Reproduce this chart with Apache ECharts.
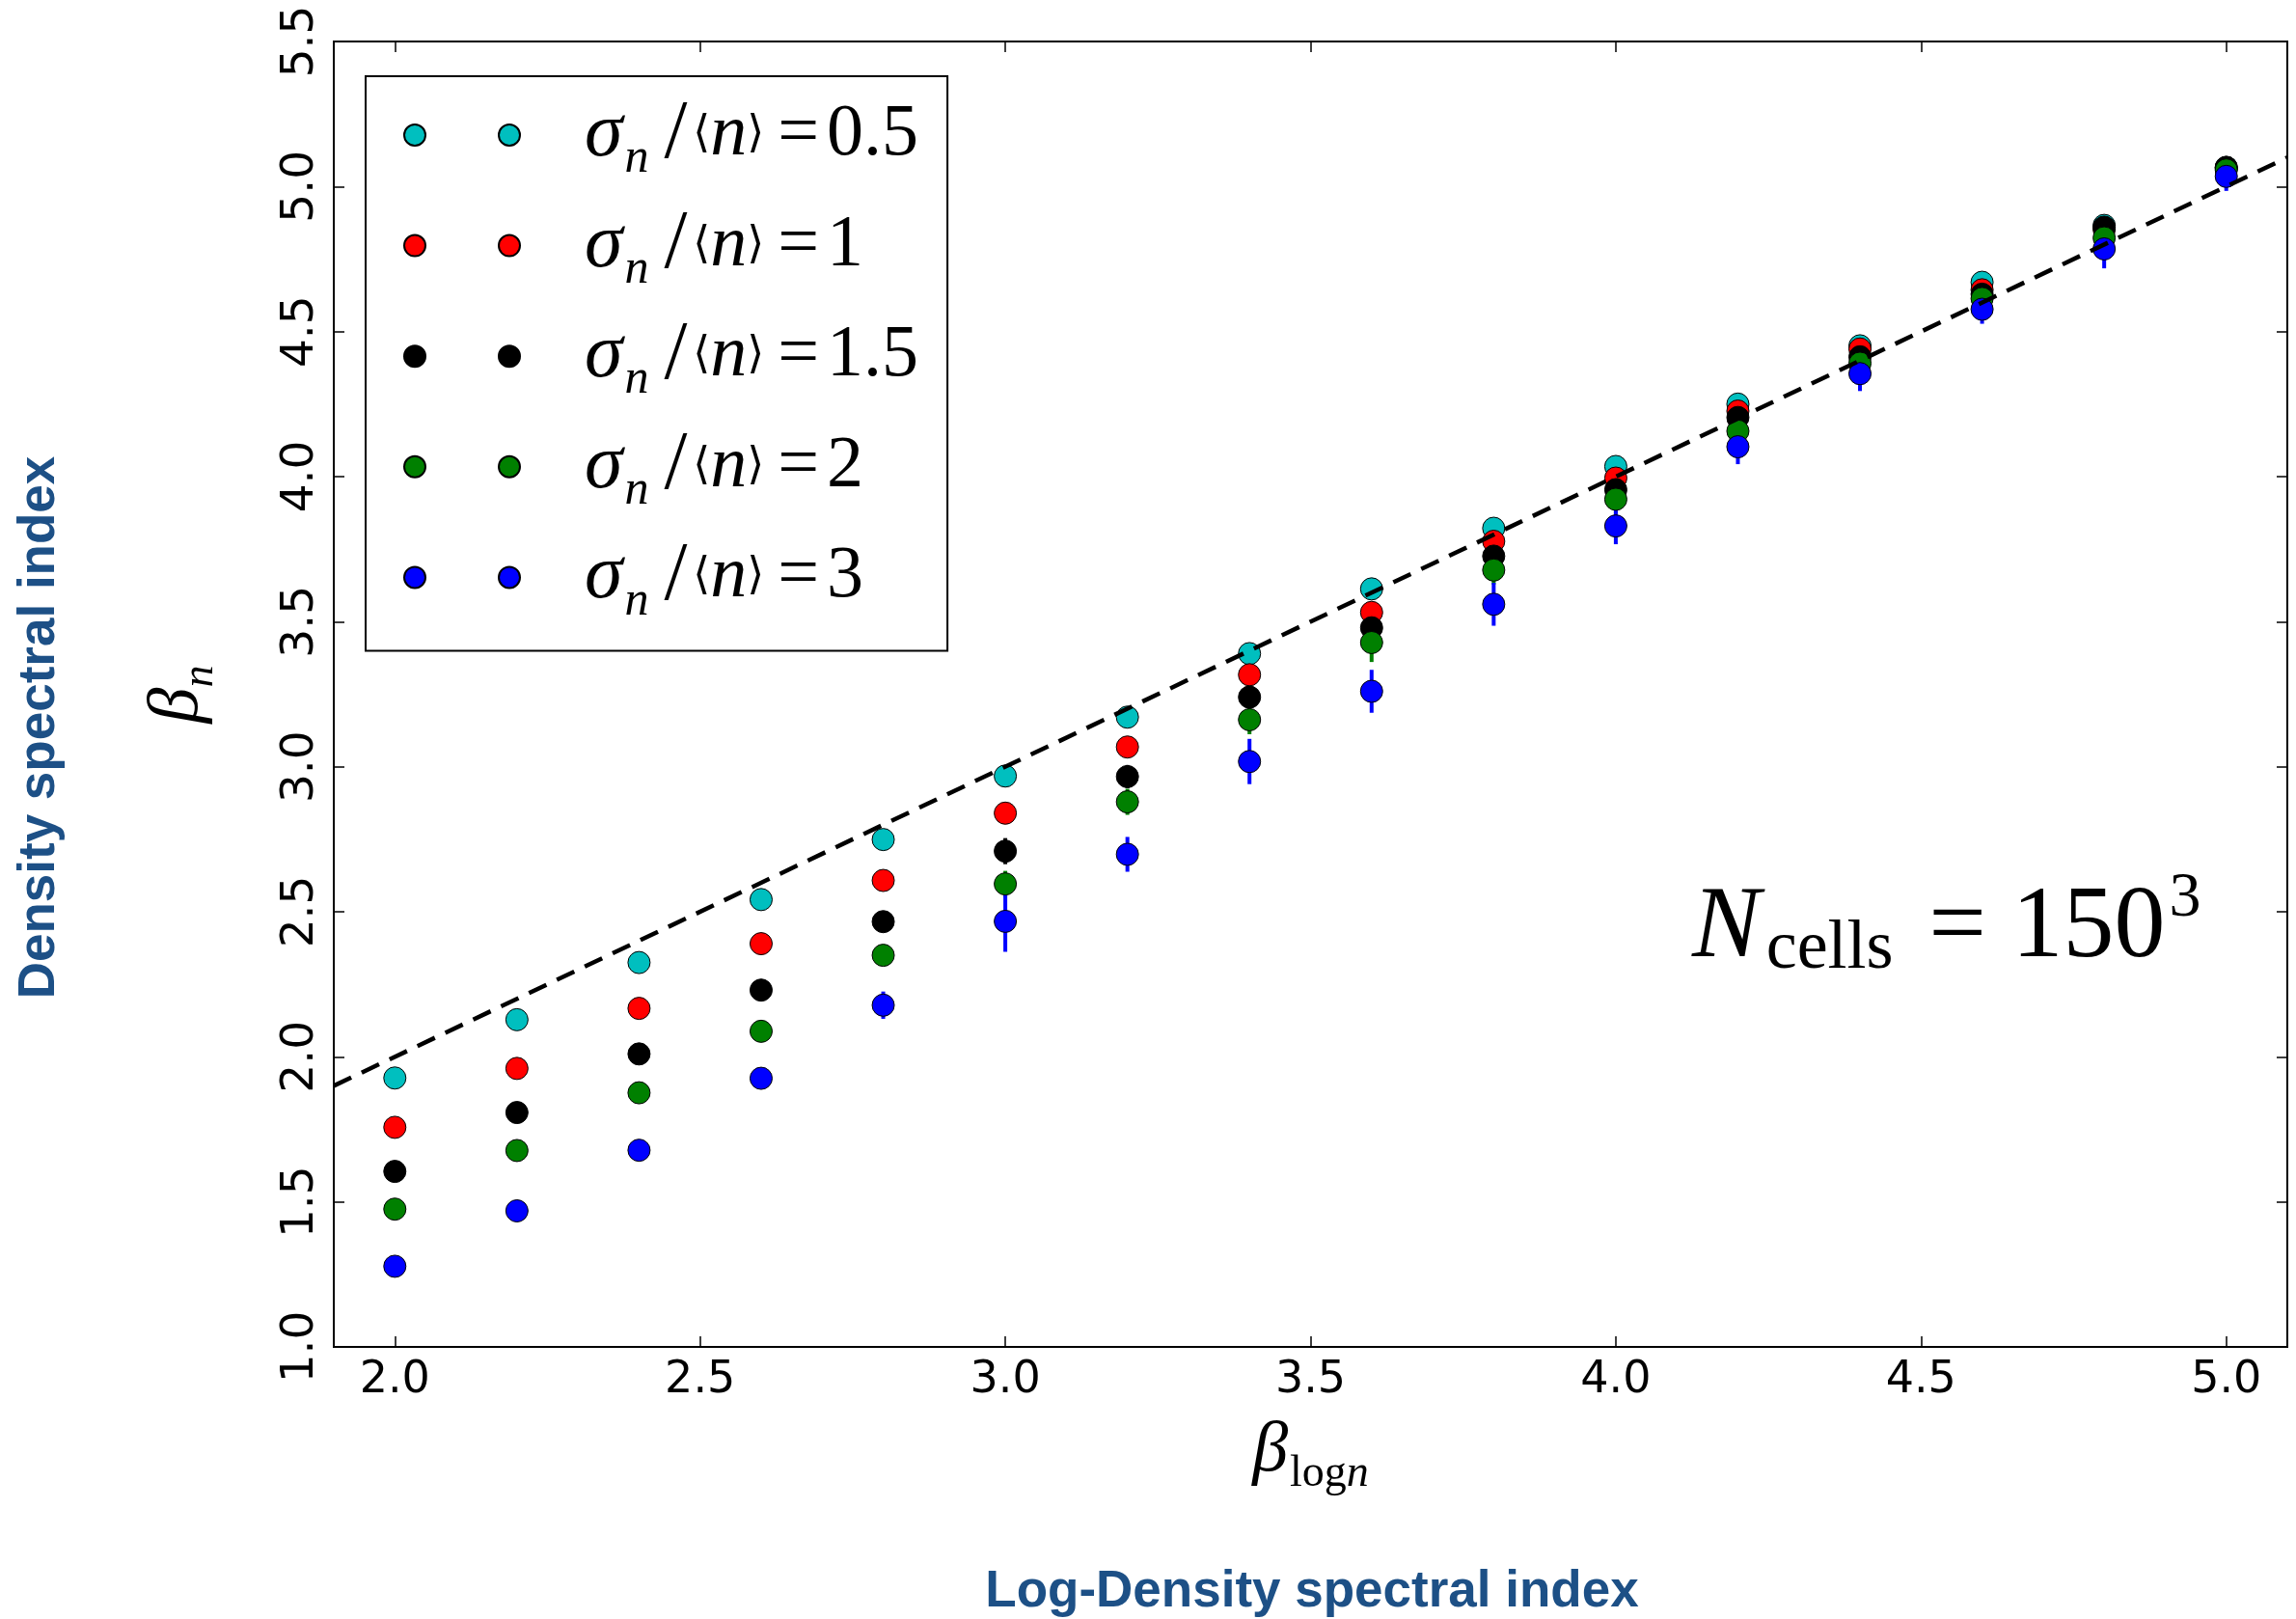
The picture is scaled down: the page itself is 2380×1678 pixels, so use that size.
<!DOCTYPE html>
<html>
<head>
<meta charset="utf-8">
<script src="https://cdn.jsdelivr.net/npm/echarts@6/dist/echarts.min.js"></script>
<style>
  html, body { margin: 0; padding: 0; background: #fff; }
  #chart { width: 2380px; height: 1678px; }
</style>
</head>
<body>
<div id="chart"></div>
<script>
// ---- data ----
const xs = [2.0, 2.2, 2.4, 2.6, 2.8, 3.0, 3.2, 3.4, 3.6, 3.8, 4.0, 4.2, 4.4, 4.6, 4.8, 5.0];

const sigmaLabels = ['0.5', '1', '1.5', '2', '3'];
const seriesColors = ['#00BFBF', '#FF0000', '#000000', '#008000', '#0000FF'];

const beta05 = [1.927, 2.128, 2.325, 2.542, 2.749, 2.968, 3.171, 3.390, 3.613, 3.822, 4.035, 4.250, 4.451, 4.670, 4.866, 5.066];
const beta1  = [1.757, 1.960, 2.167, 2.390, 2.608, 2.840, 3.068, 3.317, 3.532, 3.777, 3.995, 4.226, 4.440, 4.644, 4.852, 5.062];
const beta15 = [1.605, 1.808, 2.010, 2.230, 2.466, 2.709, 2.966, 3.240, 3.479, 3.726, 3.955, 4.204, 4.413, 4.629, 4.860, 5.066];
const beta2  = [1.475, 1.677, 1.876, 2.088, 2.350, 2.596, 2.879, 3.162, 3.428, 3.678, 3.922, 4.157, 4.391, 4.614, 4.823, 5.057];
const beta3  = [1.278, 1.469, 1.678, 1.926, 2.178, 2.467, 2.698, 3.018, 3.260, 3.560, 3.830, 4.103, 4.355, 4.577, 4.785, 5.035];

const err05 = [0.01, 0.01, 0.01, 0.01, 0.01, 0.01, 0.01, 0.01, 0.01, 0.01, 0.01, 0.01, 0.01, 0.01, 0.01, 0.01];
const err1  = [0.01, 0.01, 0.01, 0.015, 0.015, 0.02, 0.02, 0.02, 0.025, 0.025, 0.025, 0.025, 0.02, 0.02, 0.02, 0.02];
const err15 = [0.015, 0.015, 0.015, 0.02, 0.02, 0.045, 0.04, 0.04, 0.05, 0.04, 0.04, 0.04, 0.04, 0.03, 0.03, 0.03];
const err2  = [0.02, 0.02, 0.02, 0.02, 0.03, 0.045, 0.045, 0.05, 0.067, 0.05, 0.05, 0.05, 0.04, 0.04, 0.04, 0.04];
const err3  = [0.02, 0.02, 0.025, 0.03, 0.047, 0.105, 0.06, 0.078, 0.074, 0.074, 0.063, 0.06, 0.06, 0.05, 0.067, 0.05];

const allBeta = [beta05, beta1, beta15, beta2, beta3];
const allErr = [err05, err1, err15, err2, err3];

// reference line beta_n = beta_logn (dashed)
const refLineX = [1.9, 5.1];
const refLineY = [1.9, 5.1];

const xTicks = [2.0, 2.5, 3.0, 3.5, 4.0, 4.5, 5.0];
const yMin = 1.0, yMax = 5.5, yStep = 0.5;
const xMin = 1.9, xMax = 5.1;

// ---- chart ----
const chart = echarts.init(document.getElementById('chart'), null, { renderer: 'canvas' });

const seriesNames = sigmaLabels.map(v => 'sigma=' + v);
const series = [];
allBeta.forEach((ys, k) => {
  const col = seriesColors[k];
  series.push({
    type: 'custom',
    name: seriesNames[k] + '_err',
    silent: true,
    animation: false,
    data: xs.map((x, i) => [x, ys[i], allErr[k][i]]),
    encode: { x: 0, y: 1 },
    renderItem: function (params, api) {
      const x = api.value(0), y = api.value(1), e = api.value(2);
      const p1 = api.coord([x, y - e]);
      const p2 = api.coord([x, y + e]);
      return {
        type: 'line',
        shape: { x1: p1[0], y1: p1[1], x2: p2[0], y2: p2[1] },
        style: { stroke: col, lineWidth: 4 }
      };
    }
  });
  series.push({
    type: 'scatter',
    name: seriesNames[k],
    data: xs.map((x, i) => [x, ys[i]]),
    symbol: 'circle',
    symbolSize: 23,
    itemStyle: { color: col, borderColor: '#000', borderWidth: 1, opacity: 1 },
    animation: false
  });
});
series.push({
  type: 'line',
  name: 'ref',
  data: refLineX.map((x, i) => [x, refLineY[i]]),
  symbol: 'none',
  lineStyle: { color: '#000', width: 4.5, type: [20, 12] },
  silent: true,
  animation: false
});

const twoDots = 'path://M0,11A11,11,0,1,1,22,11A11,11,0,1,1,0,11ZM98,11A11,11,0,1,1,120,11A11,11,0,1,1,98,11Z';

const nameRich = {
  b: { fontFamily: 'Liberation Serif', fontStyle: 'italic', fontSize: 74, lineHeight: 70, color: '#000' },
  s: { fontFamily: 'Liberation Serif', fontSize: 46, lineHeight: 20, padding: [46, 0, 0, 2], color: '#000' },
  si: { fontFamily: 'Liberation Serif', fontStyle: 'italic', fontSize: 46, lineHeight: 20, padding: [46, 0, 0, 0], color: '#000' }
};

const option = {
  backgroundColor: '#fff',
  animation: false,
  grid: {
    left: 346, right: 9, top: 43, bottom: 282,
    show: true, borderColor: '#000', borderWidth: 2, backgroundColor: 'transparent',
    containLabel: false
  },
  xAxis: [
    {
      type: 'value', min: xMin, max: xMax, position: 'bottom',
      axisLine: { show: false },
      splitLine: { show: false },
      axisTick: { show: true, inside: true, length: 11, customValues: xTicks, lineStyle: { color: '#000', width: 1.5 } },
      axisLabel: {
        show: true, customValues: xTicks, margin: 12,
        formatter: v => Number(v).toFixed(1),
        fontFamily: 'DejaVu Sans', fontSize: 46, color: '#000'
      },
      name: '{b|β}{s|log}{si|n}',
      nameLocation: 'middle',
      nameGap: 41,
      nameTextStyle: { rich: nameRich }
    },
    {
      type: 'value', min: xMin, max: xMax, position: 'top',
      axisLine: { show: false },
      splitLine: { show: false },
      axisTick: { show: true, inside: true, length: 11, customValues: xTicks, lineStyle: { color: '#000', width: 1.5 } },
      axisLabel: { show: false }
    }
  ],
  yAxis: [
    {
      type: 'value', min: yMin, max: yMax, interval: yStep, position: 'left',
      axisLine: { show: false },
      splitLine: { show: false },
      axisTick: { show: true, inside: true, length: 11, lineStyle: { color: '#000', width: 1.5 } },
      axisLabel: {
        show: true, rotate: 90, margin: 11,
        formatter: v => Number(v).toFixed(1),
        fontFamily: 'DejaVu Sans', fontSize: 47, color: '#000'
      },
      name: '{b|β}{si|n}',
      nameLocation: 'middle',
      nameGap: 126,
      nameTextStyle: { rich: nameRich }
    },
    {
      type: 'value', min: yMin, max: yMax, interval: yStep, position: 'right',
      axisLine: { show: false },
      splitLine: { show: false },
      axisTick: { show: true, inside: true, length: 11, lineStyle: { color: '#000', width: 1.5 } },
      axisLabel: { show: false }
    }
  ],
  legend: {
    show: true,
    orient: 'vertical',
    left: 379, top: 79,
    padding: [11, 30, 26, 39],
    itemGap: 14.6,
    itemWidth: 120, itemHeight: 22,
    icon: twoDots,
    selectedMode: false,
    borderColor: '#000', borderWidth: 2, backgroundColor: '#fff',
    data: seriesNames,
    formatter: function (name) {
      const v = name.split('=')[1];
      return '{sp| }{s|σ}{sub|n}{sl|/}{br|⟨}{n|n}{br|⟩}{eq|=}{v|' + v + '}';
    },
    textStyle: {
      fontFamily: 'Liberation Serif', fontSize: 72, color: '#000', width: 414,
      rich: {
        sp: { width: 62, lineHeight: 70, fontSize: 20 },
        s: { fontFamily: 'Liberation Serif', fontStyle: 'italic', fontSize: 80, lineHeight: 70, color: '#000' },
        sub: { fontFamily: 'Liberation Serif', fontStyle: 'italic', fontSize: 50, lineHeight: 20, padding: [50, 4, 0, 2], color: '#000' },
        sl: { fontFamily: 'Liberation Serif', fontSize: 86, lineHeight: 70, padding: [0, 6, 0, 12], color: '#000' },
        br: { fontFamily: 'DejaVu Serif', fontSize: 46, lineHeight: 70, color: '#000' },
        n: { fontFamily: 'Liberation Serif', fontStyle: 'italic', fontSize: 76, lineHeight: 70, color: '#000' },
        eq: { fontFamily: 'Liberation Serif', fontSize: 76, lineHeight: 70, padding: [0, 8, 0, 14], color: '#000' },
        v: { fontFamily: 'Liberation Serif', fontSize: 76, lineHeight: 70, color: '#000' }
      }
    }
  },
  graphic: [
    {
      type: 'text',
      x: 1754, y: 963,
      silent: true,
      style: {
        text: '{N|N}{c|cells}{eq| = 150}{sup|3}',
        align: 'left', verticalAlign: 'middle',
        rich: {
          N: { fontFamily: 'Liberation Serif', fontStyle: 'italic', fontSize: 106, lineHeight: 100, padding: [0, 6, 0, 0], fill: '#000' },
          c: { fontFamily: 'Liberation Serif', fontSize: 72, lineHeight: 20, padding: [42, 10, 0, 0], fill: '#000' },
          eq: { fontFamily: 'Liberation Serif', fontSize: 106, lineHeight: 100, fill: '#000' },
          sup: { fontFamily: 'Liberation Serif', fontSize: 66, lineHeight: 20, padding: [0, 0, 62, 4], fill: '#000' }
        }
      }
    },
    {
      type: 'text',
      x: 1360, y: 1650,
      silent: true,
      style: {
        text: 'Log-Density spectral index',
        align: 'center', verticalAlign: 'middle',
        fontFamily: 'Liberation Sans', fontWeight: 'bold', fontSize: 53,
        fill: '#1d5086'
      }
    },
    {
      type: 'text',
      x: 41, y: 754,
      rotation: Math.PI / 2,
      silent: true,
      style: {
        text: 'Density spectral index',
        align: 'center', verticalAlign: 'middle',
        fontFamily: 'Liberation Sans', fontWeight: 'bold', fontSize: 53,
        fill: '#1d5086'
      }
    }
  ],
  series: series
};

chart.setOption(option);
</script>
</body>
</html>
